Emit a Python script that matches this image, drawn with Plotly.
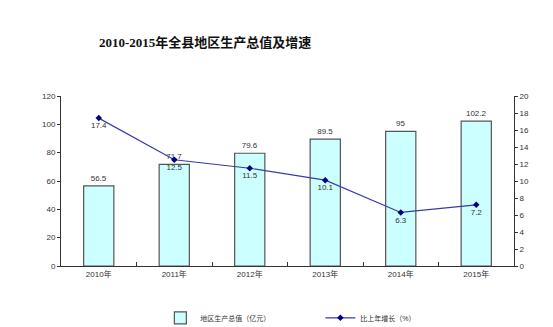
import plotly.graph_objects as go

years = ["2010年", "2011年", "2012年", "2013年", "2014年", "2015年"]
gdp = [56.5, 71.7, 79.6, 89.5, 95, 102.2]
growth = [17.4, 12.5, 11.5, 10.1, 6.3, 7.2]

small = dict(family="Liberation Sans, Noto Sans CJK SC", size=8, color="#333333")

fig = go.Figure()
fig.add_trace(go.Bar(
    x=years, y=gdp, name="地区生产总值（亿元）",
    marker=dict(color="#CCFFFF", line=dict(color="#555555", width=1.2)),
    width=0.4,
    text=[f"{v:g}" for v in gdp], textposition="outside",
    textfont=small, cliponaxis=False,
))
fig.add_trace(go.Scatter(
    x=years, y=growth, name="比上年增长（%）", yaxis="y2",
    mode="lines+markers+text",
    line=dict(color="#3A3AA8", width=1.2),
    marker=dict(symbol="diamond", size=5, color="#000080"),
    text=[f"{v:g}" for v in growth], textposition="bottom center",
    textfont=small, cliponaxis=False,
))

fig.update_layout(
    width=553, height=327,
    margin=dict(l=61, r=39, t=96, b=61, autoexpand=False),
    plot_bgcolor="white", paper_bgcolor="white",
    showlegend=True,
    legend=dict(orientation="h", xref="container", yref="container",
                x=0.29, xanchor="left", y=0.028, yanchor="middle",
                font=dict(family="Liberation Sans, Noto Sans CJK SC", size=7, color="#333333"),
                entrywidth=115, entrywidthmode="pixels", tracegroupgap=0),
    xaxis=dict(showline=True, linecolor="#333333", linewidth=1,
               ticks="inside", tickson="boundaries", ticklen=4, tickcolor="#333333",
               tickfont=small, showgrid=False),
    yaxis=dict(range=[0, 120], dtick=20, showline=True, linecolor="#333333", linewidth=1,
               ticks="outside", ticklen=3, tickcolor="#333333", tickfont=small,
               showgrid=False, zeroline=False),
    yaxis2=dict(range=[0, 20], dtick=2, overlaying="y", side="right",
                showline=True, linecolor="#333333", linewidth=1,
                ticks="outside", ticklen=3, tickcolor="#333333", tickfont=small,
                showgrid=False, zeroline=False),
    annotations=[dict(
        text="<b>2010-2015年全县地区生产总值及增速</b>",
        xref="paper", yref="paper", x=0.08, xanchor="left", y=1.0, yshift=44,
        yanchor="bottom", showarrow=False,
        font=dict(family="Liberation Serif, Noto Sans CJK SC", size=13, color="#111111"),
    )],
)

fig.write_html("out.html")
